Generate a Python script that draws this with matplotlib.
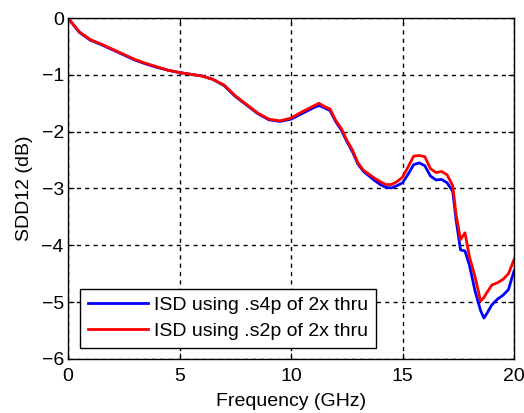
import matplotlib
matplotlib.use("Agg")
import matplotlib.pyplot as plt

plt.rcParams['font.family'] = ['Liberation Sans', 'DejaVu Sans']

# Frequency grid (GHz)
freq_ghz = [0.0, 0.5, 1.0, 1.5, 2.0, 2.5, 3.0, 3.5, 4.0, 4.5, 5.0, 5.5, 6.0, 6.5,
            7.0, 7.5, 8.0, 8.5, 9.0, 9.5, 10.0, 10.5, 11.0, 11.25, 11.5, 11.75,
            12.0, 12.25, 12.5, 12.75, 13.0, 13.25, 13.5, 13.75, 14.0, 14.25,
            14.5, 14.75, 15.0, 15.25, 15.5, 15.75, 16.0, 16.25, 16.5, 16.75,
            17.0, 17.25, 17.4, 17.6, 17.8, 18.0, 18.25, 18.5, 18.65, 18.75,
            19.0, 19.25, 19.5, 19.75, 20.0]

# SDD12 (dB) de-embedded with the 4-port 2x-thru model
sdd12_s4p = [0.0, -0.25, -0.39, -0.47, -0.56, -0.65, -0.74, -0.81, -0.87, -0.92,
             -0.96, -0.99, -1.02, -1.08, -1.19, -1.38, -1.53, -1.68, -1.79, -1.82,
             -1.78, -1.68, -1.58, -1.54, -1.58, -1.63, -1.82, -1.97, -2.17, -2.35,
             -2.57, -2.70, -2.78, -2.86, -2.93, -2.98, -2.99, -2.95, -2.90, -2.75,
             -2.58, -2.55, -2.60, -2.78, -2.85, -2.84, -2.90, -3.05, -3.55, -4.08,
             -4.10, -4.35, -4.80, -5.15, -5.28, -5.22, -5.05, -4.95, -4.88, -4.78,
             -4.45]

# SDD12 (dB) de-embedded with the 2-port 2x-thru model
sdd12_s2p = [0.0, -0.24, -0.38, -0.46, -0.55, -0.64, -0.73, -0.80, -0.86, -0.92,
             -0.96, -0.99, -1.02, -1.08, -1.18, -1.37, -1.52, -1.67, -1.78, -1.81,
             -1.76, -1.65, -1.55, -1.50, -1.56, -1.60, -1.80, -1.94, -2.15, -2.32,
             -2.55, -2.68, -2.75, -2.82, -2.88, -2.93, -2.93, -2.88, -2.80, -2.62,
             -2.43, -2.42, -2.44, -2.65, -2.72, -2.70, -2.76, -2.95, -3.45, -3.90,
             -3.78, -4.20, -4.55, -4.98, -4.92, -4.85, -4.70, -4.66, -4.60, -4.50,
             -4.25]

labels = ["ISD using .s4p of 2x thru", "ISD using .s2p of 2x thru"]
x_ticks = [0, 5, 10, 15, 20]
y_ticks = [-6, -5, -4, -3, -2, -1, 0]

fig = plt.figure(figsize=(5.24, 4.13), dpi=100)
ax = fig.add_axes([0.1298, 0.1308, 0.8512, 0.8256])

ax.plot(freq_ghz, sdd12_s4p, color="#0000ff", lw=2.0, label=labels[0])
ax.plot(freq_ghz, sdd12_s2p, color="#ff0000", lw=2.0, label=labels[1])

ax.set_xlim(0, 20)
ax.set_ylim(-6, 0)
ax.set_xticks(x_ticks)
ax.set_yticks(y_ticks)
ax.tick_params(direction="in", length=4, labelsize=14, top=True, right=True,
               colors="black", pad=3)
ax.tick_params(axis="x", pad=6.5)
ax.grid(True, color="black", linestyle=(0, (3, 3)), linewidth=1.0)
for s in ax.spines.values():
    s.set_linewidth(1.0)
    s.set_color("black")

ax.set_xlabel("Frequency (GHz)", fontsize=14, labelpad=6)
ax.set_ylabel("SDD12 (dB)", fontsize=14, labelpad=6)

leg = ax.legend(loc="lower left", bbox_to_anchor=(0.027, 0.032), borderaxespad=0,
                fontsize=14, handlelength=3.1, handletextpad=0.3,
                labelspacing=0.45, fancybox=False, framealpha=1,
                edgecolor="black", borderpad=0.4)
leg.get_frame().set_linewidth(1.0)

fig.savefig("out.png", dpi=100)
